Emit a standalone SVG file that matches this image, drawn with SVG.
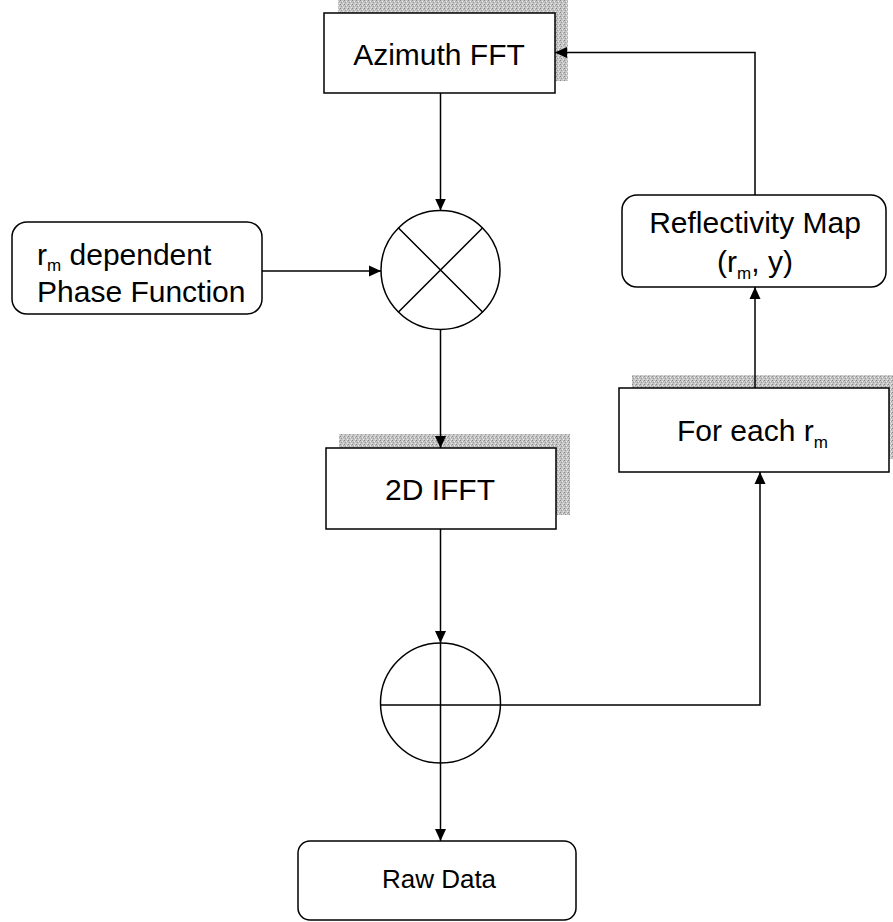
<svg xmlns="http://www.w3.org/2000/svg" width="893" height="922" viewBox="0 0 893 922">
<defs>
<pattern id="stipple" width="4" height="4" patternUnits="userSpaceOnUse">
<rect width="4" height="4" fill="#c4c4c4"/>
<rect x="0" y="0" width="1" height="1" fill="#8a8a8a"/>
<rect x="2" y="1" width="1" height="1" fill="#eeeeee"/>
<rect x="1" y="2" width="1" height="1" fill="#999999"/>
<rect x="3" y="3" width="1" height="1" fill="#e6e6e6"/>
<rect x="3" y="1" width="1" height="1" fill="#a8a8a8"/>
</pattern>
<marker id="arr" viewBox="0 0 12 12" refX="12" refY="6" markerWidth="12" markerHeight="12" markerUnits="userSpaceOnUse" orient="auto">
<path d="M0,0.5 L12,6 L0,11.5 z" fill="#000"/>
</marker>
</defs>
<style>
.box{fill:#fff;stroke:#000;stroke-width:1.5}
.shadow{fill:url(#stipple)}
.sym{fill:#fff;stroke:#000;stroke-width:1.5}
.ln{fill:none;stroke:#000;stroke-width:1.5}
.t{font-family:"Liberation Sans",Arial,sans-serif;font-size:30px;fill:#000}
.sub{font-size:17px}
</style>
<rect width="893" height="922" fill="#fff"/>
<g id="azimuth-fft">
<rect class="shadow" x="338" y="-1" width="230" height="82"/>
<rect class="box" x="324" y="13" width="231" height="80"/>
<text class="t" x="439" y="65" text-anchor="middle">Azimuth FFT</text>
</g>
<g id="phase-function">
<rect class="box" x="12" y="222" width="250" height="92" rx="15"/>
<text class="t" x="37" y="265">r<tspan class="sub" dy="6">m</tspan><tspan dy="-6"> dependent</tspan></text>
<text class="t" x="37" y="302">Phase Function</text>
</g>
<g id="multiplier">
<circle class="sym" cx="440.5" cy="270" r="59.5"/>
<path class="ln" d="M398.5,228 L482.5,312 M482.5,228 L398.5,312"/>
</g>
<g id="ifft-2d">
<rect class="shadow" x="339" y="434" width="231" height="81"/>
<rect class="box" x="326" y="448" width="230" height="81"/>
<text class="t" x="440" y="500" text-anchor="middle">2D IFFT</text>
</g>
<g id="adder">
<circle class="sym" cx="440.5" cy="703" r="60"/>
<path class="ln" d="M380.5,705 H500.5 M440.5,643 V763"/>
</g>
<g id="raw-data">
<rect class="box" x="298" y="841" width="278" height="79" rx="12"/>
<text class="t" x="439" y="888" text-anchor="middle" style="font-size:26px">Raw Data</text>
</g>
<g id="for-each-rm">
<rect class="shadow" x="632" y="375" width="270" height="84"/>
<rect class="box" x="619" y="388" width="270" height="84"/>
<text class="t" x="677" y="441">For each r<tspan class="sub" dy="7">m</tspan></text>
</g>
<g id="reflectivity-map">
<rect class="box" x="622" y="195" width="264" height="92" rx="15"/>
<text class="t" x="755" y="233" text-anchor="middle">Reflectivity Map</text>
<text class="t" x="755" y="272" text-anchor="middle">(r<tspan class="sub" dy="7">m</tspan><tspan dy="-7">, y)</tspan></text>
</g>
<g id="connectors">
<path class="ln" d="M440.5,93 V210.5" marker-end="url(#arr)"/>
<path class="ln" d="M262,271 H381" marker-end="url(#arr)"/>
<path class="ln" d="M440.5,330 V448" marker-end="url(#arr)"/>
<path class="ln" d="M440.5,529 V643" marker-end="url(#arr)"/>
<path class="ln" d="M440.5,763 V841" marker-end="url(#arr)"/>
<path class="ln" d="M500.5,705 H760 V472" marker-end="url(#arr)"/>
<path class="ln" d="M755,388 V287" marker-end="url(#arr)"/>
<path class="ln" d="M755,195 V52.5 H555" marker-end="url(#arr)"/>
</g>
</svg>
